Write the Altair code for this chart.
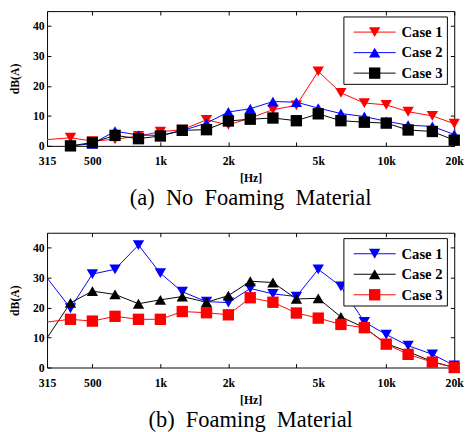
import json
import altair as alt
import pandas as pd

freqs = [315, 400, 500, 630, 800, 1000, 1250, 1600, 2000, 2500, 3150, 4000,
         5000, 6300, 8000, 10000, 12500, 16000, 20000]
cases = ["Case 1", "Case 2", "Case 3"]

# (a) No Foaming Material
a_case1 = [2.1, 2.7, 1.6, 2.2, 3.3, 4.7, 5.4, 8.7, 7.0, 9.3, 12.1, 13.5,
           24.9, 17.7, 14.3, 13.7, 11.4, 10.0, 7.4]
a_case2 = [None, 0.0, 0.7, 4.9, 3.6, 3.5, 5.1, 7.6, 11.3, 12.4, 14.8, 14.6,
           12.6, 10.8, 9.8, 8.2, 6.9, 6.5, 3.8]
a_case3 = [None, 0.0, 1.1, 3.5, 2.4, 3.3, 5.2, 5.4, 8.3, 8.9, 9.3, 8.4,
           10.7, 8.4, 7.9, 7.6, 5.3, 4.8, 1.9]

# (b) Foaming Material
b_case1 = [29.9, 19.8, 31.2, 32.8, 40.9, 31.5, 25.3, 22.0, 21.7, 26.4, 24.6, 23.7,
           32.8, 27.1, 15.2, 11.0, 7.3, 4.4, 0.7]
b_case2 = [9.9, 21.6, 25.5, 24.4, 21.3, 22.6, 23.7, 21.8, 24.0, 28.8, 28.4, 22.9,
           23.1, 16.9, 13.3, 8.0, 5.3, 2.0, 0.0]
b_case3 = [15.2, 16.1, 15.5, 17.1, 16.1, 16.1, 18.7, 18.3, 17.6, 23.3, 21.8, 18.2,
           16.5, 14.4, 13.3, 7.8, 4.4, 1.8, 0.0]

a_colors = ["#ff0000", "#0000ff", "#000000"]
b_colors = ["#0000ff", "#000000", "#ff0000"]
shapes = ["triangle-down", "triangle-up", "square"]

x_tick_values = [315, 500, 1000, 2000, 4000, 5000, 10000, 20000]
y_tick_values = [0, 10, 20, 30, 40]
GAP = "\u00a0" * 2
captions = [GAP.join(["(a)", "No", "Foaming", "Material"]),
            GAP.join(["(b)", "Foaming", "Material"])]

FONT = "Times New Roman"
W, H = 417, 138

label_expr = ("datum.value == 4000 ? '' : (datum.value >= 1000 ? "
              "(datum.value / 1000) + 'k' : datum.value + '')")
tick_op = {"condition": {"test": "datum.value == 5000", "value": 0}, "value": 1}
IN = {"expr": "-4"}


def panel(series, colors, caption):
    rows = []
    for case, vals in zip(cases, series):
        for f, v in zip(freqs, vals):
            if v is not None:
                rows.append({"freq": f, "value": v, "case": case})
    df = pd.DataFrame(rows)

    xs = alt.Scale(type="log", domain=[315, 20000], nice=False)
    ys = alt.Scale(domain=[0, 45], nice=False)
    color = alt.Color("case:N", scale=alt.Scale(domain=cases, range=colors), legend=None)
    shape = alt.Shape("case:N", scale=alt.Scale(domain=cases, range=shapes), legend=None)

    # labelled axes (no ticks)
    x_lab = alt.Axis(orient="bottom", values=x_tick_values, labelExpr=label_expr,
                     ticks=False, labelPadding=10, labelBaseline="top",
                     title="[Hz]", titlePadding=7, labelFlush=False, labelOverlap=False)
    y_lab = alt.Axis(orient="left", values=y_tick_values, ticks=False,
                     labelPadding=3, title="dB(A)", titlePadding=11)
    # inward tick-only axes
    x_bt = alt.Axis(orient="bottom", values=x_tick_values, labels=False, title=None,
                    tickSize=IN, tickOpacity=tick_op, minExtent=0, maxExtent=0)
    y_lt = alt.Axis(orient="left", values=y_tick_values, labels=False, title=None,
                    tickSize=IN, minExtent=0, maxExtent=0)
    x_top = alt.Axis(orient="top", values=x_tick_values, labels=False, title=None,
                     tickSize=IN, tickOpacity=tick_op, minExtent=0, maxExtent=0)
    y_right = alt.Axis(orient="right", values=y_tick_values, labels=False, title=None,
                       tickSize=IN, minExtent=0, maxExtent=0)

    lines = alt.Chart(df).mark_line(strokeWidth=1).encode(
        x=alt.X("freq:Q", scale=xs, axis=x_lab),
        y=alt.Y("value:Q", scale=ys, axis=y_lab),
        color=color,
        detail="case:N",
    )
    ticks_bl = alt.Chart(df).mark_point(opacity=0).encode(
        x=alt.X("freq:Q", scale=xs, axis=x_bt),
        y=alt.Y("value:Q", scale=ys, axis=y_lt),
    )
    points = alt.Chart(df).transform_filter("datum.freq >= 400").mark_point(
        filled=True, size=135, opacity=1
    ).encode(
        x=alt.X("freq:Q", scale=xs, axis=x_top),
        y=alt.Y("value:Q", scale=ys, axis=y_right),
        color=color,
        shape=shape,
    )

    leg_df = pd.DataFrame({"case": cases})
    ly = "indexof(" + json.dumps(cases) + ", datum.case) * 21 + 21.5"
    box = alt.Chart(pd.DataFrame({"k": [0]})).mark_rect(
        fill="white", stroke="black", strokeWidth=1
    ).encode(x=alt.value(304), x2=alt.value(410), y=alt.value(6), y2=alt.value(75))
    leg_base = alt.Chart(leg_df).transform_calculate(ly=ly)
    leg_lines = leg_base.mark_rule(strokeWidth=1).encode(
        x=alt.value(314), x2=alt.value(357),
        y=alt.Y("ly:Q", scale=None), color=color)
    leg_pts = leg_base.mark_point(filled=True, size=135, opacity=1).encode(
        x=alt.value(335.5), y=alt.Y("ly:Q", scale=None), color=color, shape=shape)
    leg_txt = leg_base.mark_text(
        align="left", baseline="middle", font=FONT, fontWeight="bold",
        fontSize=15, color="black"
    ).encode(x=alt.value(363), y=alt.Y("ly:Q", scale=None), text="case:N")

    return alt.layer(lines, ticks_bl, points, box, leg_lines, leg_pts, leg_txt).resolve_axis(
        x="independent", y="independent"
    ).properties(
        width=W, height=H,
        title=alt.Title(caption, orient="bottom", font=FONT, fontSize=23,
                        fontWeight="normal", offset=4, anchor="middle"),
    )


chart = alt.vconcat(
    panel([a_case1, a_case2, a_case3], a_colors, captions[0]),
    panel([b_case1, b_case2, b_case3], b_colors, captions[1]),
    spacing=21,
).resolve_scale(
    color="independent", shape="independent"
).properties(
    padding={"left": 0, "top": -3, "right": 0, "bottom": 0}
).configure_view(
    stroke="black", strokeWidth=1
).configure_axis(
    domain=False, grid=False, tickColor="black", tickWidth=1,
    labelFont=FONT, labelFontWeight="bold", labelFontSize=12, labelColor="black",
    titleFont=FONT, titleFontWeight="bold", titleFontSize=12, titleColor="black",
).configure_title(color="black")

chart.save("out.html", embed_options={"renderer": "svg", "actions": False})
